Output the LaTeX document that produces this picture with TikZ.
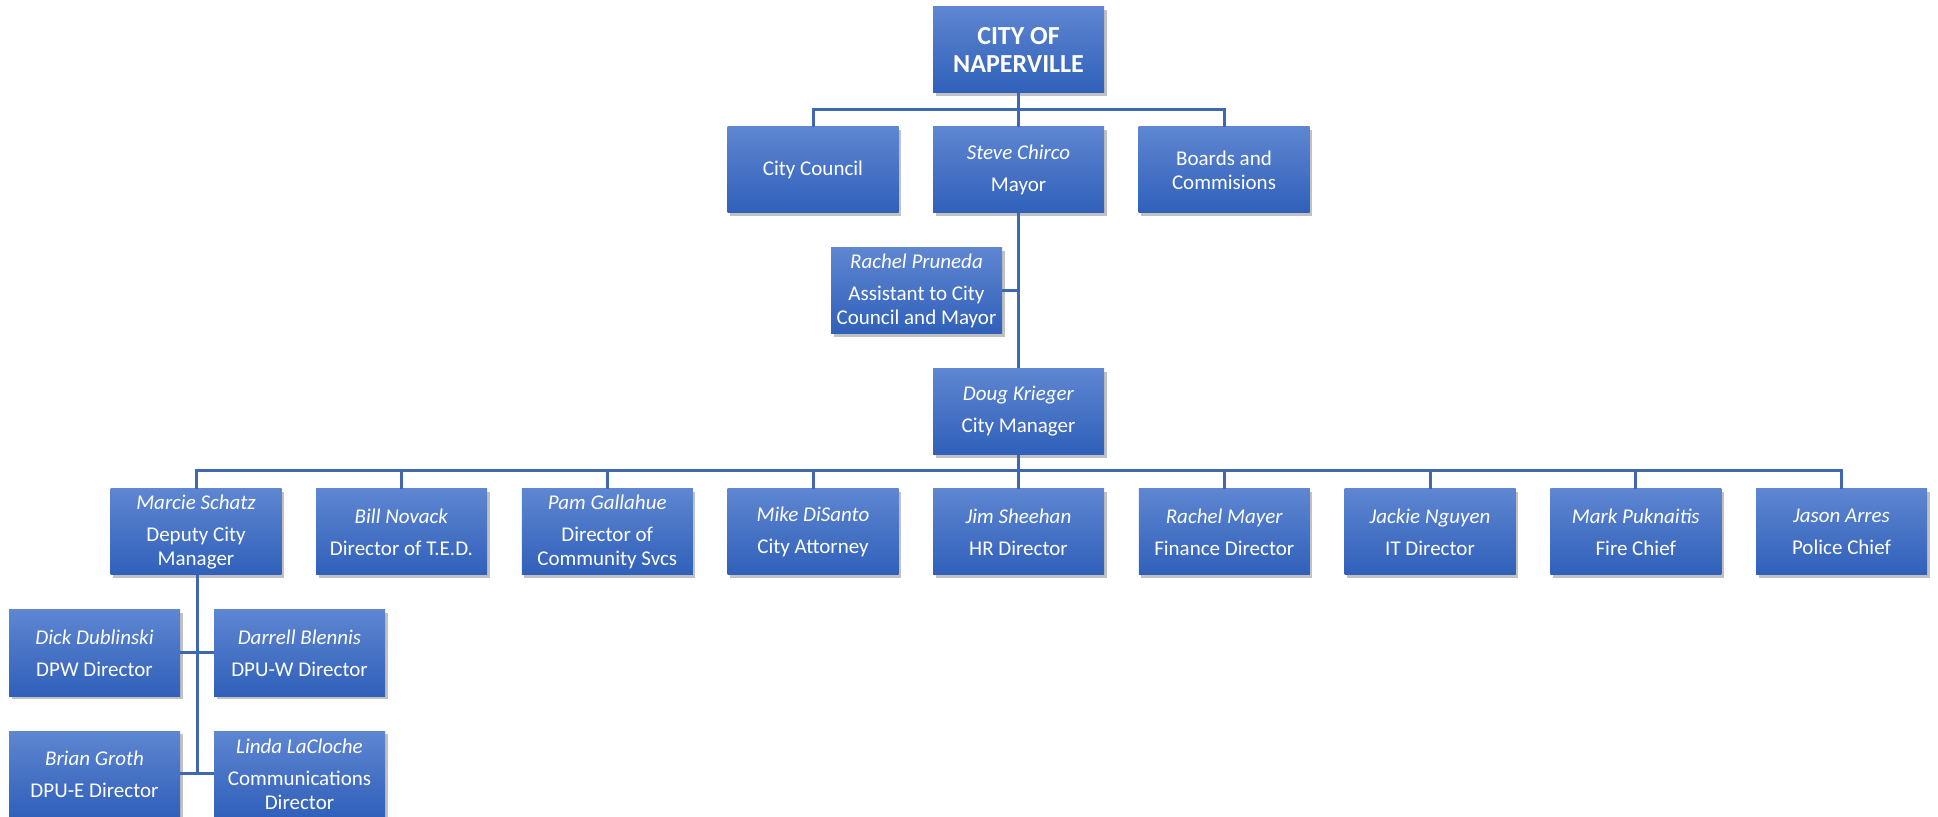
\documentclass[tikz,border=0pt]{standalone}
\usepackage{fontspec}
\setmainfont{Carlito}
\usetikzlibrary{shadows}
\definecolor{boxtop}{HTML}{5E86D1}
\definecolor{boxbot}{HTML}{3060BA}
\definecolor{linec}{HTML}{4068B0}
\tikzset{
  orgbox/.style={rectangle, minimum width=85.5pt, minimum height=43pt, inner sep=0pt,
    top color=boxtop, bottom color=boxbot, draw=none, text=white, align=center,
    font=\fontsize{10.5pt}{12pt}\selectfont,
    drop shadow={shadow xshift=1.3pt, shadow yshift=-1.6pt, opacity=0.35, fill=black!70}},
  titlebox/.style={orgbox, font=\fontsize{13pt}{14pt}\selectfont\bfseries},
  conn/.style={draw=linec, line width=1.5pt, line join=miter}
}
\newcommand{\pname}[1]{\textit{#1}\\[4pt]}
\begin{document}
\begin{tikzpicture}[x=0.5pt, y=-0.5pt]
\useasboundingbox (0,0) rectangle (1938,817);
% level 0-1
\node[titlebox] (top) at (1018.5,50) {CITY OF\\NAPERVILLE};
\node[orgbox] (council) at (813,170) {City Council};
\node[orgbox] (mayor) at (1018.5,170) {\pname{Steve Chirco}Mayor};
\node[orgbox] (boards) at (1224,170) {Boards and\\Commisions};
\node[orgbox] (rachelp) at (916.5,291) {\pname{Rachel Pruneda}Assistant to City\\Council and Mayor};
\node[orgbox] (doug) at (1018.5,411.5) {\pname{Doug Krieger}City Manager};
% level 3
\node[orgbox] (marcie) at (196,532) {\pname{Marcie Schatz}Deputy City\\Manager};
\node[orgbox] (bill) at (401.5,532) {\pname{Bill Novack}Director of T.E.D.};
\node[orgbox] (pam) at (607.25,532) {\pname{Pam Gallahue}Director of\\Community Svcs};
\node[orgbox] (mike) at (813,532) {\pname{Mike DiSanto}City Attorney};
\node[orgbox] (jim) at (1018.5,532) {\pname{Jim Sheehan}HR Director};
\node[orgbox] (rachelm) at (1224.25,532) {\pname{Rachel Mayer}Finance Director};
\node[orgbox] (jackie) at (1430,532) {\pname{Jackie Nguyen}IT Director};
\node[orgbox] (mark) at (1635.75,532) {\pname{Mark Puknaitis}Fire Chief};
\node[orgbox] (jason) at (1841.5,532) {\pname{Jason Arres}Police Chief};
% level 4
\node[orgbox] (dick) at (94.5,653) {\pname{Dick Dublinski}DPW Director};
\node[orgbox] (darrell) at (299.5,653) {\pname{Darrell Blennis}DPU-W Director};
\node[orgbox] (brian) at (94.5,774) {\pname{Brian Groth}DPU-E Director};
\node[orgbox] (linda) at (299.5,774) {\pname{Linda LaCloche}Communications\\Director};
% connectors
\coordinate (b1) at (1018.5,110);
\coordinate (b2) at (1018.5,471);
\draw[conn] (top.south) -- (mayor.north);
\draw[conn] (council.north) |- (b1) -| (boards.north);
\draw[conn] (mayor.south) -- (doug.north);
\draw[conn] (rachelp.east) -- (rachelp.east -| mayor.south);
\draw[conn] (doug.south) -- (jim.north);
\draw[conn] (marcie.north) |- (b2) -| (jason.north);
\foreach \n in {bill,pam,mike,rachelm,jackie,mark}
  \draw[conn] (\n.north) -- (\n.north |- b2);
\coordinate (v1) at (197,652);
\coordinate (v2) at (197,773);
\draw[conn] (marcie.south -| v1) -- (v2);
\draw[conn] (dick.east |- v1) -- (darrell.west |- v1);
\draw[conn] (brian.east |- v2) -- (linda.west |- v2);
\end{tikzpicture}
\end{document}
